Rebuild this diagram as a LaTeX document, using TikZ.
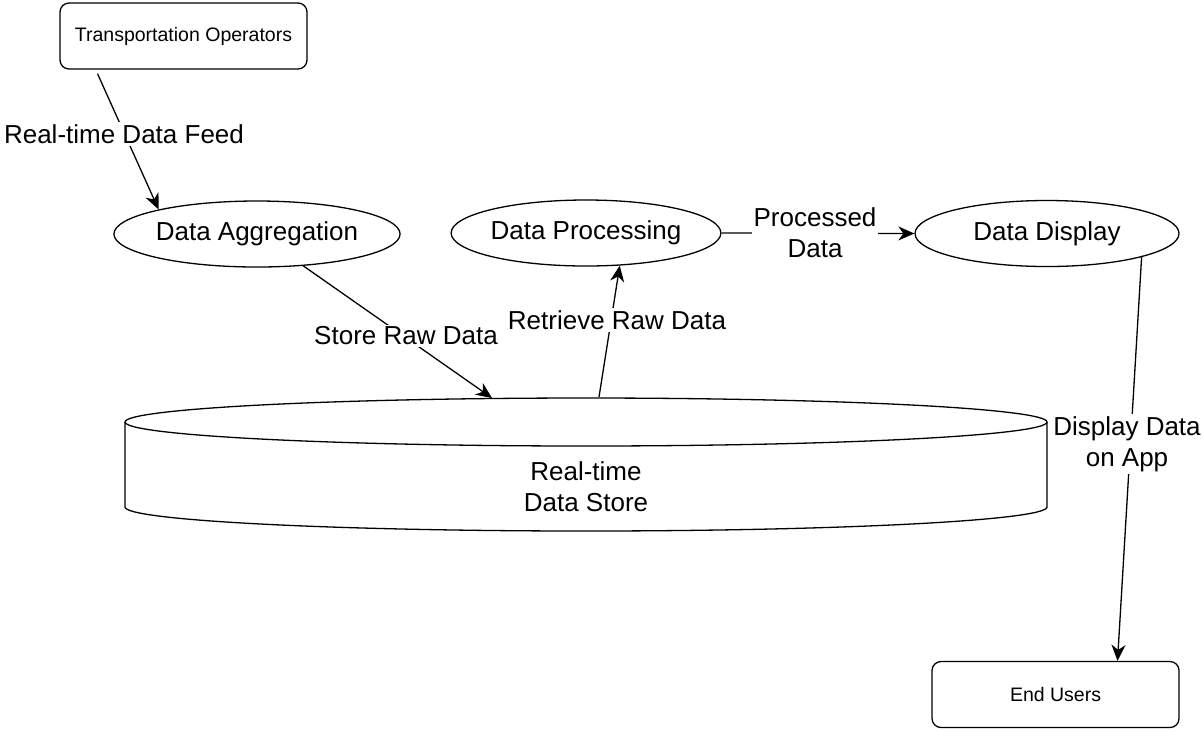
\documentclass[tikz,border=0pt]{standalone}
\usepackage{fontspec}
\setmainfont{Liberation Sans}
\usetikzlibrary{shapes.geometric,arrows.meta}
\begin{document}
\begin{tikzpicture}[x=0.5pt,y=-0.5pt,
  line/.style={line width=0.65pt,draw=black},
  arr/.style={line width=0.65pt,-{Stealth[length=8pt,width=7pt,inset=2.5pt]}},
  procnode/.style={ellipse,line width=0.65pt,draw,fill=white,minimum width=132pt,minimum height=33pt,inner sep=0pt,font=\fontsize{13}{15.5}\selectfont},
  extnode/.style={rectangle,rounded corners=4.5pt,line width=0.65pt,draw,fill=white,minimum width=123.5pt,minimum height=33pt,inner sep=0pt,font=\fontsize{9.75}{12}\selectfont},
  lbl/.style={fill=white,inner sep=1pt,align=center,font=\fontsize{13}{15.5}\selectfont}]
\useasboundingbox (0,0) rectangle (1203,730);
% data store cylinder
\fill[white] (125,422) -- (125,507) arc[start angle=180,end angle=360,x radius=230.5pt,y radius=12pt] -- (1047,422) -- cycle;
\draw[line] (125,422) -- (125,507) arc[start angle=180,end angle=360,x radius=230.5pt,y radius=12pt] -- (1047,422);
\draw[line,fill=white] (586,422) ellipse[x radius=230.5pt,y radius=12pt];
\node[align=center,inner sep=0pt,font=\fontsize{13}{15.5}\selectfont] (store) at (586,487) {Real-time\\Data Store};
\coordinate (storein) at (492,398);
\coordinate (storeout) at (599,397);
% nodes
\node[extnode] (op) at (183.5,36) {Transportation Operators};
\node[extnode] (users) at (1055.5,694.5) {End Users};
\node[procnode] (agg) at (257,234) {Data Aggregation};
\node[procnode] (proc) at (586,233) {Data Processing};
\node[procnode] (disp) at (1047,233.5) {Data Display};
% connectors
\draw[arr] ([xshift=-43pt,yshift=-2pt]op.south) -- (agg.166);
\draw[arr] ([xshift=23pt,yshift=1pt]agg.south) -- (storein);
\draw[arr] (storeout) -- (proc.316);
\draw[arr] (proc.east) -- (disp.west);
\draw[arr] (disp.-14) -- ([xshift=31pt]users.north);
% labels
\node[lbl] (l1) at (124,134) {Real-time Data Feed};
\node[lbl] (l2) at (406,336) {Store Raw Data};
\node[lbl] (l3) at (617,320) {Retrieve Raw Data};
\node[lbl] (l4) at (815,233) {Processed\\Data};
\node[lbl] (l5) at (1127,444) {Display Data\\on App};
\end{tikzpicture}
\end{document}
